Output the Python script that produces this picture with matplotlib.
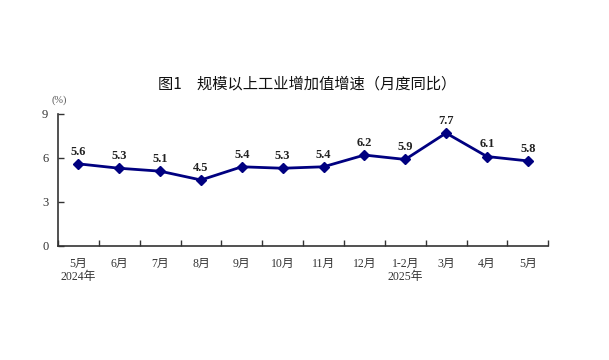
import numpy as np
import matplotlib
matplotlib.use('Agg')
from matplotlib import pyplot as plt

months = ['5月', '6月', '7月', '8月', '9月', '10月', '11月', '12月', '1-2月', '3月', '4月', '5月']
years = ['2024年', '', '', '', '', '', '', '', '2025年', '', '', '']
growth = [5.6, 5.3, 5.1, 4.5, 5.4, 5.3, 5.4, 6.2, 5.9, 7.7, 6.1, 5.8]
y_ticks = [0, 3, 6, 9]

SERIF = ['Liberation Serif', 'Noto Sans CJK SC']
CJK = ['Noto Sans CJK SC', 'DejaVu Sans']
LINE_COLOR = '#000080'


def main(fname='out.png'):
    fig = plt.figure(figsize=(6.09, 3.6), dpi=100)
    ax = fig.add_axes([0.0952, 0.3167, 0.805, 0.3667])

    x = np.arange(len(growth))
    ax.plot(x, growth, color=LINE_COLOR, linewidth=2, marker='D', markersize=5,
            markeredgecolor=LINE_COLOR, markerfacecolor=LINE_COLOR)
    for xi, v in zip(x, growth):
        ax.annotate(f'{v:.1f}', (xi, v), xytext=(0, 4.5), textcoords='offset points',
                    ha='center', va='bottom', fontsize=9, fontweight='bold',
                    family=SERIF, color='#222222')

    ax.set_xlim(-0.5, len(growth) - 0.5)
    ax.set_ylim(0, 9)
    ax.set_yticks(y_ticks)
    ax.set_yticklabels([str(t) for t in y_ticks], family=SERIF, fontsize=9, color='#333333')

    # ticks on category boundaries, labels at centres
    ax.set_xticks(np.arange(len(growth) + 1) - 0.5)
    ax.set_xticklabels([])
    ax.tick_params(axis='x', direction='in', length=4, width=1, color='#333333')
    ax.tick_params(axis='y', direction='in', length=4, width=1, color='#333333', pad=7)
    for xi, m, yr in zip(x, months, years):
        ax.text(xi, -0.09, m, transform=ax.get_xaxis_transform(), ha='center', va='top',
                fontsize=8.5, family=SERIF, color='#333333')
        if yr:
            ax.text(xi, -0.19, yr, transform=ax.get_xaxis_transform(), ha='center', va='top',
                    fontsize=8.5, family=SERIF, color='#333333')

    for side in ('top', 'right'):
        ax.spines[side].set_visible(False)
    for side in ('left', 'bottom'):
        ax.spines[side].set_color('#333333')
        ax.spines[side].set_linewidth(1.2)

    fig.text(0.097, 0.722, '(%)', ha='center', va='center', fontsize=7.5, family=SERIF,
             color='#555555')
    fig.text(0.505, 0.767, '图1　规模以上工业增加值增速（月度同比）', ha='center', va='center',
             fontsize=11, family=CJK, color='#111111')

    if fname:
        fig.savefig(fname, dpi=100)


if __name__ == '__main__':
    main('out.png')
